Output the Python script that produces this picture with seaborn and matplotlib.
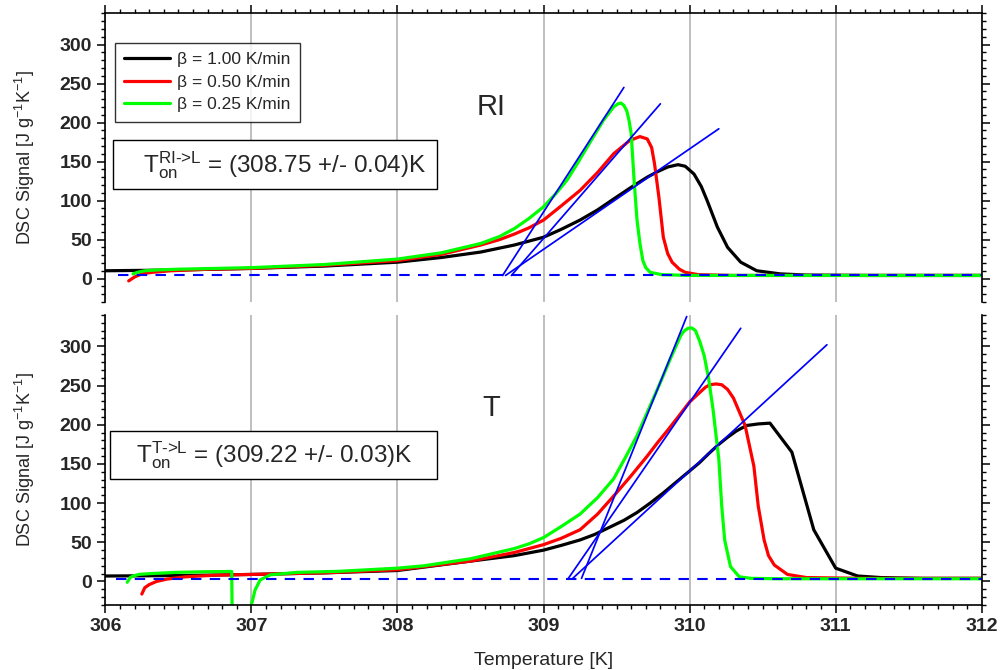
import matplotlib
matplotlib.use("Agg")
import matplotlib.pyplot as plt
from matplotlib.patches import Rectangle
from matplotlib.ticker import MultipleLocator
import seaborn as sns

# ---------------- data ----------------
rate_labels = ["β = 1.00 K/min", "β = 0.50 K/min", "β = 0.25 K/min"]
rate_colors = ["#000000", "#ff0000", "#00ff00"]

# RI -> L transition
ri_black_T = [306.00, 306.50, 307.00, 307.50, 308.00, 308.30, 308.57, 308.80, 309.00, 309.12,
              309.25, 309.37, 309.48, 309.60, 309.71, 309.78, 309.85, 309.92, 309.97, 310.03,
              310.08, 310.12, 310.19, 310.26, 310.35, 310.46, 310.62, 310.80, 311.20, 312.00]
ri_black_V = [10, 11, 13, 16, 21, 27, 34, 43, 53, 63,
              75, 88, 102, 117, 130, 137, 143, 146, 144, 134,
              118, 100, 66, 40, 21, 10, 6, 4.5, 4, 4]

ri_red_T = [306.16, 306.20, 306.25, 306.32, 306.45, 306.70, 307.00, 307.50, 308.00, 308.30,
            308.57, 308.70, 308.80, 308.90, 309.00, 309.12, 309.25, 309.37, 309.48, 309.59,
            309.66, 309.71, 309.74, 309.76, 309.79, 309.82, 309.85, 309.88, 309.93, 309.97,
            310.06, 310.30, 312.00]
ri_red_V = [-3, 2, 6, 8, 10, 12, 13, 17, 23, 31,
            43, 50, 57, 65, 75, 93, 113, 136, 160, 177,
            182, 179, 168, 147, 104, 53, 32, 21, 12, 8,
            5, 4, 4]

ri_green_T = [306.19, 306.22, 306.27, 306.35, 306.50, 307.00, 307.50, 308.00, 308.30, 308.57,
              308.70, 308.80, 308.90, 309.00, 309.08, 309.16, 309.23, 309.30, 309.41, 309.48,
              309.51, 309.53, 309.55, 309.57, 309.585, 309.60, 309.62, 309.64, 309.66, 309.68,
              309.70, 309.73, 309.81, 310.00, 312.00]
ri_green_V = [6, 8, 10, 11, 12, 14, 18, 25, 33, 45,
              54, 64, 77, 92, 108, 126, 147, 169, 203, 220,
              224, 225, 222, 215, 203, 186, 126, 75, 45, 23,
              14, 8, 5, 4, 4]

ri_tangent_T = [[308.74, 310.20], [308.78, 309.80], [308.72, 309.55]]
ri_tangent_V = [[4, 192], [4, 224], [4, 245]]
ri_base_T = [306.09, 312.00]
ri_base_V = [4, 4]
ri_onset = "308.75 +/- 0.04"

# T -> L transition
t_black_T = [306.00, 306.50, 307.00, 307.50, 308.00, 308.50, 308.80, 309.00, 309.12, 309.25,
             309.35, 309.45, 309.55, 309.64, 309.73, 309.82, 309.91, 310.00, 310.07, 310.13,
             310.20, 310.26, 310.32, 310.39, 310.47, 310.55, 310.70, 310.85, 311.00, 311.15,
             311.31, 311.60, 312.00]
t_black_V = [7, 7.5, 9, 11, 14, 26, 33, 40, 46, 53,
             60, 69, 78, 88, 100, 113, 127, 141, 152, 163,
             175, 184, 192, 199, 201, 202, 165, 66, 17, 7,
             5, 4, 4]

t_red_T = [306.25, 306.27, 306.30, 306.35, 306.42, 306.55, 306.75, 307.00, 307.50, 308.00,
           308.50, 308.80, 309.00, 309.12, 309.25, 309.37, 309.48, 309.60, 309.71, 309.78,
           309.85, 309.93, 310.00, 310.04, 310.08, 310.11, 310.14, 310.18, 310.22, 310.26,
           310.30, 310.38, 310.44, 310.47, 310.51, 310.54, 310.58, 310.67, 310.80, 311.20,
           312.00]
t_red_V = [-16, -8, -4, 0, 3, 6, 8, 9, 11, 15,
           26, 37, 47, 55, 66, 86, 109, 135, 160, 177,
           193, 212, 229, 236, 243, 248, 251, 252, 251, 245,
           234, 199, 147, 96, 53, 33, 21, 9, 5, 4,
           4]

# the 0.25 K/min run has a break just below 307 K
t_green_T1 = [306.15, 306.17, 306.19, 306.23, 306.30, 306.48, 306.70, 306.865, 306.870]
t_green_V1 = [-1, 5, 7, 9, 10, 11.6, 12.5, 12.8, -60]
t_green_T2 = [306.990, 307.000, 307.025, 307.060, 307.130, 307.310, 307.600, 308.000, 308.180, 308.500,
              308.800, 308.900, 309.000, 309.120, 309.250, 309.370, 309.480, 309.560, 309.640, 309.720,
              309.800, 309.870, 309.940, 309.965, 309.990, 310.015, 310.040, 310.070, 310.100, 310.130,
              310.160, 310.200, 310.220, 310.240, 310.280, 310.340, 310.420, 310.600, 312.000]
t_green_V2 = [-60, -30, -11, 2, 8.5, 11.6, 13, 17, 20, 29,
              42, 48, 56, 70, 86, 107, 131, 158, 186, 220,
              254, 285, 314, 320, 323, 323.5, 320, 306, 288, 259,
              220, 156, 96, 53, 19, 6, 4, 3.5, 3.5]

t_tangent_T = [[309.20, 310.94], [309.17, 310.35], [309.26, 309.98]]
t_tangent_V = [[4, 302], [4, 323], [4, 338]]
t_base_T = [306.07, 312.00]
t_base_V = [3.5, 3.5]
t_onset = "309.22 +/- 0.03"

x_ticks = [306, 307, 308, 309, 310, 311, 312]

# ---------------- style ----------------
sns.set_style("white")
plt.rcParams["font.family"] = ["Liberation Sans", "DejaVu Sans"]
plt.rcParams["mathtext.fontset"] = "custom"
plt.rcParams["mathtext.rm"] = "Liberation Sans"
plt.rcParams["mathtext.it"] = "Liberation Sans:italic"
plt.rcParams["mathtext.bf"] = "Liberation Sans:bold"

fig = plt.figure(figsize=(10.02, 6.70), dpi=100)
ax_top = fig.add_axes([0.1051, 0.5493, 0.8747, 0.4308])
ax_bot = fig.add_axes([0.1051, 0.0970, 0.8747, 0.4329])

curve_lw = 2.3
tick_font = {"family": ["Liberation Sans"], "weight": "bold", "size": 14}


def draw_panel(ax, curves, tangents_T, tangents_V, base_T, base_V):
    for i, (T, V) in enumerate(curves):
        sns.lineplot(x=T, y=V, color=rate_colors[min(i, 2)], lw=curve_lw, ax=ax,
                     sort=False, estimator=None, legend=False)
    for T, V in zip(tangents_T, tangents_V):
        sns.lineplot(x=T, y=V, color="#0000ff", lw=1.25, ax=ax, sort=False,
                     estimator=None, legend=False)
    sns.lineplot(x=base_T, y=base_V, color="#0000ff", lw=1.5, ax=ax, sort=False,
                 estimator=None, legend=False)
    ax.lines[-1].set_dashes((5, 4))

    ax.set_xlim(306, 312)
    ax.set_xticks(x_ticks)
    ax.xaxis.set_minor_locator(MultipleLocator(0.1))
    ax.yaxis.set_major_locator(MultipleLocator(50))
    ax.yaxis.set_minor_locator(MultipleLocator(10))
    ax.set_ylim(-30, 340)
    ax.grid(axis="x", which="major", color="#b4b4b4", lw=1.2)
    ax.grid(axis="y", visible=False)
    ax.set_axisbelow(True)
    for sp in ax.spines.values():
        sp.set_linewidth(1.2)
        sp.set_color("black")
    ax.tick_params(axis="both", which="major", direction="out", length=6, width=1.1,
                   color="black")
    ax.tick_params(axis="both", which="minor", direction="out", length=3, width=1.0,
                   color="black")
    ax.tick_params(axis="y", which="both", left=True, right=True, labelright=False)
    for lab in ax.get_yticklabels():
        lab.set_fontproperties(tick_font)
    ax.set_ylabel(r"DSC Signal [J g$^{\mathregular{-1}}$K$^{\mathregular{-1}}$]", fontsize=13)
    ax.yaxis.set_label_coords(-0.078, 0.5)


draw_panel(ax_top,
           [(ri_black_T, ri_black_V), (ri_red_T, ri_red_V), (ri_green_T, ri_green_V)],
           ri_tangent_T, ri_tangent_V, ri_base_T, ri_base_V)
draw_panel(ax_bot,
           [(t_black_T, t_black_V), (t_red_T, t_red_V), (t_green_T1, t_green_V1),
            (t_green_T2, t_green_V2)],
           t_tangent_T, t_tangent_V, t_base_T, t_base_V)

# top panel: ticks on top, no bottom spine
ax_top.spines["bottom"].set_visible(False)
ax_top.tick_params(axis="x", which="both", top=True, bottom=False,
                   labeltop=False, labelbottom=False)
# bottom panel: no top spine, labelled bottom axis
ax_bot.spines["top"].set_visible(False)
ax_bot.tick_params(axis="x", which="both", top=False, bottom=True, labelbottom=True)
for lab in ax_bot.get_xticklabels():
    lab.set_fontproperties(tick_font)
ax_bot.set_xlabel("Temperature [K]", fontsize=14, labelpad=12)

# legend
leg = ax_top.legend(handles=ax_top.lines[:3], labels=rate_labels, loc="upper left",
                    bbox_to_anchor=(0.011, 0.898), borderaxespad=0, fontsize=12.5,
                    frameon=True, fancybox=False, edgecolor="black", handlelength=2.6,
                    handletextpad=0.45, borderpad=0.55, labelspacing=0.42)
leg.get_frame().set_linewidth(1.0)

# phase labels
ax_top.text(0.44, 0.675, "RI", transform=ax_top.transAxes, fontsize=21,
            ha="center", va="center")
ax_bot.text(0.44, 0.679, "T", transform=ax_bot.transAxes, fontsize=21,
            ha="center", va="center")

# onset temperature boxes
for ax, x0, y0, w, h in [(ax_top, 0.0088, 0.3914, 0.3697, 0.1696),
                         (ax_bot, 0.0055, 0.4334, 0.3730, 0.1676)]:
    ax.add_patch(Rectangle((x0, y0), w, h, transform=ax.transAxes, facecolor="white",
                           edgecolor="black", lw=1.0, zorder=4))
ax_top.text(0.204, 0.474, r"T$_{\mathregular{on}}^{\text{RI->L}}$ = (" + ri_onset + ")K",
            transform=ax_top.transAxes, fontsize=17.5, ha="center", va="center", zorder=5)
ax_bot.text(0.193, 0.515, r"T$_{\mathregular{on}}^{\text{T->L}}$ = (" + t_onset + ")K",
            transform=ax_bot.transAxes, fontsize=17.5, ha="center", va="center", zorder=5)

fig.savefig("out.png", dpi=100)
